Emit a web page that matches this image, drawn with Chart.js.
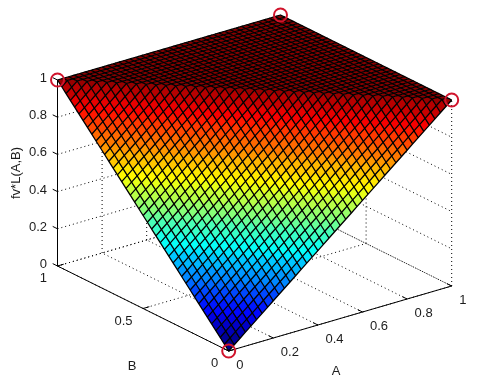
<!DOCTYPE html>
<html><head><meta charset="utf-8">
<style>html,body{margin:0;padding:0;background:#fff}canvas{display:block}</style>
<script src="https://cdn.jsdelivr.net/npm/chart.js@4"></script>
</head><body><canvas id="c" width="480" height="387"></canvas>
<script>
const aValues=[0,25,50,75,100,125,150,175,200,225,250,275,300,325,350,375,400,425,450,475,500,525,550,575,600,625,650,675,700,725,750,775,800,825,850,875,900,925,950,975,1000];
const bValues=[0,25,50,75,100,125,150,175,200,225,250,275,300,325,350,375,400,425,450,475,500,525,550,575,600,625,650,675,700,725,750,775,800,825,850,875,900,925,950,975,1000];
// fv*L(A,B) in thousandths; one row per B, one column per A
const surfaceRows=[
[0,25,50,75,100,125,150,175,200,225,250,275,300,325,350,375,400,425,450,475,500,525,550,575,600,625,650,675,700,725,750,775,800,825,850,875,900,925,950,975,1000],
[25,50,75,100,125,150,175,200,225,250,275,300,325,350,375,400,425,450,475,500,525,550,575,600,625,650,675,700,725,750,775,800,825,850,875,900,925,950,975,1000,1000],
[50,75,100,125,150,175,200,225,250,275,300,325,350,375,400,425,450,475,500,525,550,575,600,625,650,675,700,725,750,775,800,825,850,875,900,925,950,975,1000,1000,1000],
[75,100,125,150,175,200,225,250,275,300,325,350,375,400,425,450,475,500,525,550,575,600,625,650,675,700,725,750,775,800,825,850,875,900,925,950,975,1000,1000,1000,1000],
[100,125,150,175,200,225,250,275,300,325,350,375,400,425,450,475,500,525,550,575,600,625,650,675,700,725,750,775,800,825,850,875,900,925,950,975,1000,1000,1000,1000,1000],
[125,150,175,200,225,250,275,300,325,350,375,400,425,450,475,500,525,550,575,600,625,650,675,700,725,750,775,800,825,850,875,900,925,950,975,1000,1000,1000,1000,1000,1000],
[150,175,200,225,250,275,300,325,350,375,400,425,450,475,500,525,550,575,600,625,650,675,700,725,750,775,800,825,850,875,900,925,950,975,1000,1000,1000,1000,1000,1000,1000],
[175,200,225,250,275,300,325,350,375,400,425,450,475,500,525,550,575,600,625,650,675,700,725,750,775,800,825,850,875,900,925,950,975,1000,1000,1000,1000,1000,1000,1000,1000],
[200,225,250,275,300,325,350,375,400,425,450,475,500,525,550,575,600,625,650,675,700,725,750,775,800,825,850,875,900,925,950,975,1000,1000,1000,1000,1000,1000,1000,1000,1000],
[225,250,275,300,325,350,375,400,425,450,475,500,525,550,575,600,625,650,675,700,725,750,775,800,825,850,875,900,925,950,975,1000,1000,1000,1000,1000,1000,1000,1000,1000,1000],
[250,275,300,325,350,375,400,425,450,475,500,525,550,575,600,625,650,675,700,725,750,775,800,825,850,875,900,925,950,975,1000,1000,1000,1000,1000,1000,1000,1000,1000,1000,1000],
[275,300,325,350,375,400,425,450,475,500,525,550,575,600,625,650,675,700,725,750,775,800,825,850,875,900,925,950,975,1000,1000,1000,1000,1000,1000,1000,1000,1000,1000,1000,1000],
[300,325,350,375,400,425,450,475,500,525,550,575,600,625,650,675,700,725,750,775,800,825,850,875,900,925,950,975,1000,1000,1000,1000,1000,1000,1000,1000,1000,1000,1000,1000,1000],
[325,350,375,400,425,450,475,500,525,550,575,600,625,650,675,700,725,750,775,800,825,850,875,900,925,950,975,1000,1000,1000,1000,1000,1000,1000,1000,1000,1000,1000,1000,1000,1000],
[350,375,400,425,450,475,500,525,550,575,600,625,650,675,700,725,750,775,800,825,850,875,900,925,950,975,1000,1000,1000,1000,1000,1000,1000,1000,1000,1000,1000,1000,1000,1000,1000],
[375,400,425,450,475,500,525,550,575,600,625,650,675,700,725,750,775,800,825,850,875,900,925,950,975,1000,1000,1000,1000,1000,1000,1000,1000,1000,1000,1000,1000,1000,1000,1000,1000],
[400,425,450,475,500,525,550,575,600,625,650,675,700,725,750,775,800,825,850,875,900,925,950,975,1000,1000,1000,1000,1000,1000,1000,1000,1000,1000,1000,1000,1000,1000,1000,1000,1000],
[425,450,475,500,525,550,575,600,625,650,675,700,725,750,775,800,825,850,875,900,925,950,975,1000,1000,1000,1000,1000,1000,1000,1000,1000,1000,1000,1000,1000,1000,1000,1000,1000,1000],
[450,475,500,525,550,575,600,625,650,675,700,725,750,775,800,825,850,875,900,925,950,975,1000,1000,1000,1000,1000,1000,1000,1000,1000,1000,1000,1000,1000,1000,1000,1000,1000,1000,1000],
[475,500,525,550,575,600,625,650,675,700,725,750,775,800,825,850,875,900,925,950,975,1000,1000,1000,1000,1000,1000,1000,1000,1000,1000,1000,1000,1000,1000,1000,1000,1000,1000,1000,1000],
[500,525,550,575,600,625,650,675,700,725,750,775,800,825,850,875,900,925,950,975,1000,1000,1000,1000,1000,1000,1000,1000,1000,1000,1000,1000,1000,1000,1000,1000,1000,1000,1000,1000,1000],
[525,550,575,600,625,650,675,700,725,750,775,800,825,850,875,900,925,950,975,1000,1000,1000,1000,1000,1000,1000,1000,1000,1000,1000,1000,1000,1000,1000,1000,1000,1000,1000,1000,1000,1000],
[550,575,600,625,650,675,700,725,750,775,800,825,850,875,900,925,950,975,1000,1000,1000,1000,1000,1000,1000,1000,1000,1000,1000,1000,1000,1000,1000,1000,1000,1000,1000,1000,1000,1000,1000],
[575,600,625,650,675,700,725,750,775,800,825,850,875,900,925,950,975,1000,1000,1000,1000,1000,1000,1000,1000,1000,1000,1000,1000,1000,1000,1000,1000,1000,1000,1000,1000,1000,1000,1000,1000],
[600,625,650,675,700,725,750,775,800,825,850,875,900,925,950,975,1000,1000,1000,1000,1000,1000,1000,1000,1000,1000,1000,1000,1000,1000,1000,1000,1000,1000,1000,1000,1000,1000,1000,1000,1000],
[625,650,675,700,725,750,775,800,825,850,875,900,925,950,975,1000,1000,1000,1000,1000,1000,1000,1000,1000,1000,1000,1000,1000,1000,1000,1000,1000,1000,1000,1000,1000,1000,1000,1000,1000,1000],
[650,675,700,725,750,775,800,825,850,875,900,925,950,975,1000,1000,1000,1000,1000,1000,1000,1000,1000,1000,1000,1000,1000,1000,1000,1000,1000,1000,1000,1000,1000,1000,1000,1000,1000,1000,1000],
[675,700,725,750,775,800,825,850,875,900,925,950,975,1000,1000,1000,1000,1000,1000,1000,1000,1000,1000,1000,1000,1000,1000,1000,1000,1000,1000,1000,1000,1000,1000,1000,1000,1000,1000,1000,1000],
[700,725,750,775,800,825,850,875,900,925,950,975,1000,1000,1000,1000,1000,1000,1000,1000,1000,1000,1000,1000,1000,1000,1000,1000,1000,1000,1000,1000,1000,1000,1000,1000,1000,1000,1000,1000,1000],
[725,750,775,800,825,850,875,900,925,950,975,1000,1000,1000,1000,1000,1000,1000,1000,1000,1000,1000,1000,1000,1000,1000,1000,1000,1000,1000,1000,1000,1000,1000,1000,1000,1000,1000,1000,1000,1000],
[750,775,800,825,850,875,900,925,950,975,1000,1000,1000,1000,1000,1000,1000,1000,1000,1000,1000,1000,1000,1000,1000,1000,1000,1000,1000,1000,1000,1000,1000,1000,1000,1000,1000,1000,1000,1000,1000],
[775,800,825,850,875,900,925,950,975,1000,1000,1000,1000,1000,1000,1000,1000,1000,1000,1000,1000,1000,1000,1000,1000,1000,1000,1000,1000,1000,1000,1000,1000,1000,1000,1000,1000,1000,1000,1000,1000],
[800,825,850,875,900,925,950,975,1000,1000,1000,1000,1000,1000,1000,1000,1000,1000,1000,1000,1000,1000,1000,1000,1000,1000,1000,1000,1000,1000,1000,1000,1000,1000,1000,1000,1000,1000,1000,1000,1000],
[825,850,875,900,925,950,975,1000,1000,1000,1000,1000,1000,1000,1000,1000,1000,1000,1000,1000,1000,1000,1000,1000,1000,1000,1000,1000,1000,1000,1000,1000,1000,1000,1000,1000,1000,1000,1000,1000,1000],
[850,875,900,925,950,975,1000,1000,1000,1000,1000,1000,1000,1000,1000,1000,1000,1000,1000,1000,1000,1000,1000,1000,1000,1000,1000,1000,1000,1000,1000,1000,1000,1000,1000,1000,1000,1000,1000,1000,1000],
[875,900,925,950,975,1000,1000,1000,1000,1000,1000,1000,1000,1000,1000,1000,1000,1000,1000,1000,1000,1000,1000,1000,1000,1000,1000,1000,1000,1000,1000,1000,1000,1000,1000,1000,1000,1000,1000,1000,1000],
[900,925,950,975,1000,1000,1000,1000,1000,1000,1000,1000,1000,1000,1000,1000,1000,1000,1000,1000,1000,1000,1000,1000,1000,1000,1000,1000,1000,1000,1000,1000,1000,1000,1000,1000,1000,1000,1000,1000,1000],
[925,950,975,1000,1000,1000,1000,1000,1000,1000,1000,1000,1000,1000,1000,1000,1000,1000,1000,1000,1000,1000,1000,1000,1000,1000,1000,1000,1000,1000,1000,1000,1000,1000,1000,1000,1000,1000,1000,1000,1000],
[950,975,1000,1000,1000,1000,1000,1000,1000,1000,1000,1000,1000,1000,1000,1000,1000,1000,1000,1000,1000,1000,1000,1000,1000,1000,1000,1000,1000,1000,1000,1000,1000,1000,1000,1000,1000,1000,1000,1000,1000],
[975,1000,1000,1000,1000,1000,1000,1000,1000,1000,1000,1000,1000,1000,1000,1000,1000,1000,1000,1000,1000,1000,1000,1000,1000,1000,1000,1000,1000,1000,1000,1000,1000,1000,1000,1000,1000,1000,1000,1000,1000],
[1000,1000,1000,1000,1000,1000,1000,1000,1000,1000,1000,1000,1000,1000,1000,1000,1000,1000,1000,1000,1000,1000,1000,1000,1000,1000,1000,1000,1000,1000,1000,1000,1000,1000,1000,1000,1000,1000,1000,1000,1000]
];
const aTicks=[0,0.2,0.4,0.6,0.8,1];
const bTicks=[0,0.5,1];
const zTicks=[0,0.2,0.4,0.6,0.8,1];
const markerA=[0,1,1,0];
const markerB=[1,1,0,0];
const markerZ=[1,1,1,0];
const axisTitles={a:'A',b:'B',z:'fv*L(A,B)'};

// Orthographic view of the 3D box on the flat x/y scales
const view={ox:228.7,oy:351,ax:223,ay:-65,bx:-171.2,by:-85,zy:-186};
const project=(a,b,z)=>({x:view.ox+a*view.ax+b*view.bx,y:view.oy+a*view.ay+b*view.by+z*view.zy});
const jet=z=>{
  const v=(Math.min(63,Math.floor(z*64))+0.5)/64;
  const ch=c=>Math.round(255*Math.max(0,Math.min(1,1.5-Math.abs(4*v-c))));
  return `rgb(${ch(3)},${ch(2)},${ch(1)})`;
};
const layers=[];
const line=(pts,color,width,dash)=>layers.push({data:pts,showLine:true,fill:false,pointRadius:0,borderColor:color,borderWidth:width,borderDash:dash||[]});
const dotted=(p,q)=>line([project(...p),project(...q)],'#000',1,[1,3]);
const solid=(p,q)=>line([project(...p),project(...q)],'#000',1);

// dotted box grid
aTicks.forEach(a=>{dotted([a,0,0],[a,1,0]);dotted([a,1,0],[a,1,1]);});
bTicks.forEach(b=>{dotted([0,b,0],[1,b,0]);dotted([1,b,0],[1,b,1]);});
zTicks.forEach(z=>{dotted([0,1,z],[1,1,z]);dotted([1,1,z],[1,0,z]);});
// axes and ticks
solid([0,0,0],[1,0,0]);solid([0,0,0],[0,1,0]);solid([0,1,0],[0,1,1]);
const tickLen=0.028;
aTicks.forEach(a=>solid([a,0,0],[a,tickLen,0]));
bTicks.forEach(b=>solid([0,b,0],[tickLen,b,0]));
zTicks.forEach(z=>solid([0,1,z],[0,1+tickLen,z]));
// surface faces, back to front, flat colour from each cell's first corner
for(let j=bValues.length-2;j>=0;j--){
  for(let i=aValues.length-2;i>=0;i--){
    const P=(m,n)=>project(aValues[m]/1000,bValues[n]/1000,surfaceRows[n][m]/1000);
    layers.push({data:[P(i,j),P(i+1,j),P(i+1,j+1),P(i,j+1),P(i,j)],showLine:true,fill:'shape',
      backgroundColor:jet(surfaceRows[j][i]/1000),borderWidth:0,pointRadius:0});
  }
}
// mesh
const meshWidth=1.3;
bValues.forEach((b,j)=>line(aValues.map((a,i)=>project(a/1000,b/1000,surfaceRows[j][i]/1000)),'#000',meshWidth));
aValues.forEach((a,i)=>line(bValues.map((b,j)=>project(a/1000,b/1000,surfaceRows[j][i]/1000)),'#000',meshWidth));
// red corner markers
layers.push({data:markerA.map((a,k)=>project(a,markerB[k],markerZ[k])),showLine:false,pointRadius:6.5,pointBorderWidth:2,
  pointBorderColor:'#d0142c',pointBackgroundColor:'rgba(0,0,0,0)',pointStyle:'circle'});
layers.forEach((d,k)=>{d.order=layers.length-k;});

const textPlugin={id:'text3d',afterDatasetsDraw(chart){
  const {ctx,scales:{x,y}}=chart;
  const put=(s,pt,dx,dy,align,rot)=>{
    ctx.save();
    ctx.translate(x.getPixelForValue(pt.x)+dx,y.getPixelForValue(pt.y)+dy);
    if(rot)ctx.rotate(rot);
    ctx.font='13px "Liberation Sans"';ctx.fillStyle='#1c1c1c';ctx.textAlign=align;ctx.textBaseline='middle';
    ctx.fillText(s,0,0);ctx.restore();
  };
  aTicks.forEach(a=>put(String(a),project(a,0,0),7.5,14,'left'));
  bTicks.forEach(b=>put(String(b),project(0,b,0),-10.5,12.5,'right'));
  zTicks.forEach(z=>put(String(z),project(0,1,z),-10.5,-1.5,'right'));
  put(axisTitles.a,project(0.5,0,0),-4,52.5,'center');
  put(axisTitles.b,project(0,0.5,0),-11,57.5,'center');
  put(axisTitles.z,project(0,1,0.5),-41.5,0,'center',-Math.PI/2);
}};

new Chart(document.getElementById('c'),{
  type:'scatter',
  data:{datasets:layers},
  options:{responsive:false,animation:false,events:[],
    layout:{padding:0,autoPadding:false},
    plugins:{legend:{display:false},tooltip:{enabled:false},title:{display:false}},
    scales:{x:{type:'linear',min:0,max:480,display:false},y:{type:'linear',min:0,max:387,reverse:true,display:false}}},
  plugins:[textPlugin]
});
</script></body></html>
